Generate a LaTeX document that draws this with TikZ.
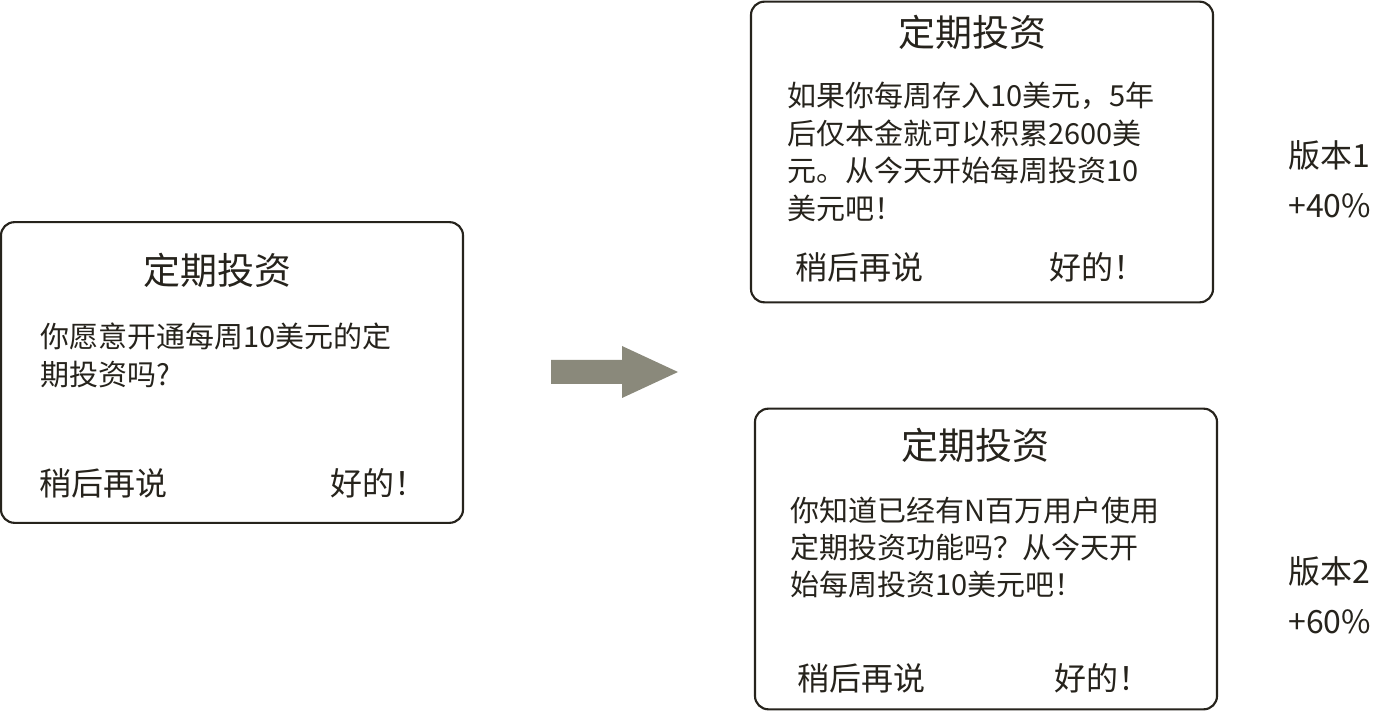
\documentclass[tikz,border=0pt]{standalone}
\usepackage{fontspec}
\setmainfont{Noto Sans CJK SC}
\usepackage{tikz}
\usetikzlibrary{positioning}
\definecolor{cInk}  {RGB}{38,35,28}
\definecolor{cArrow}{RGB}{138,137,123}

\begin{document}
\begin{tikzpicture}[
  x=0.75pt,y=-0.75pt,
  card/.style={draw=cInk,line width=1.6pt,rounded corners=10pt,fill=white,
               minimum width=346.5pt,minimum height=225.5pt,inner sep=0pt},
  head/.style={anchor=base,inner sep=0pt,text=cInk,
               font=\fontsize{27.75}{33}\selectfont},
  body/.style={anchor=base west,inner sep=0pt,text=cInk,align=left,
               text width=330pt,font=\fontsize{21.75}{28.1}\selectfont},
  btn/.style={anchor=base west,inner sep=0pt,text=cInk,
              font=\fontsize{24}{28}\selectfont},
  tag/.style={anchor=base west,inner sep=0pt,text=cInk,align=left,
              text width=80pt,font=\fontsize{24}{37.5}\selectfont},
]
\useasboundingbox (0,0) rectangle (1380,712);
% original prompt
\node[card] (ask) at (232,372.5) {};
\node[head] (askT) at (217,285) {定期投资};
\node[body] (askB) at (40,348) {你愿意开通每周10美元的定\\期投资吗?};
\node[btn] (askL) at (39,495) {稍后再说};
\node[btn] (askR) at (330,495) {好的！};
% arrow to the variants
\fill[cArrow] (551,360) -- (622,360) -- (622,346) -- (678,372)
  -- (622,398) -- (622,384) -- (551,384) -- cycle;
% version 1
\node[card] (v1) at (982,152) {};
\node[head] (v1T) at (972,47) {定期投资};
\node[body] (v1B) at (787,107) {如果你每周存入10美元，5年\\后仅本金就可以积累2600美\\元。从今天开始每周投资10\\美元吧！};
\node[btn] (v1L) at (795,280) {稍后再说};
\node[btn] (v1R) at (1049,280) {好的！};
\node[tag] (v1tag) at (1288,168) {版本1\\+40\%};
% version 2
\node[card] (v2) at (986,559) {};
\node[head] (v2T) at (975,459) {定期投资};
\node[body] (v2B) at (790,521) {你知道已经有N百万用户使用\\定期投资功能吗？从今天开\\始每周投资10美元吧！};
\node[btn] (v2L) at (797,690) {稍后再说};
\node[btn] (v2R) at (1054,690) {好的！};
\node[tag] (v2tag) at (1288,583) {版本2\\+60\%};
\end{tikzpicture}
\end{document}
